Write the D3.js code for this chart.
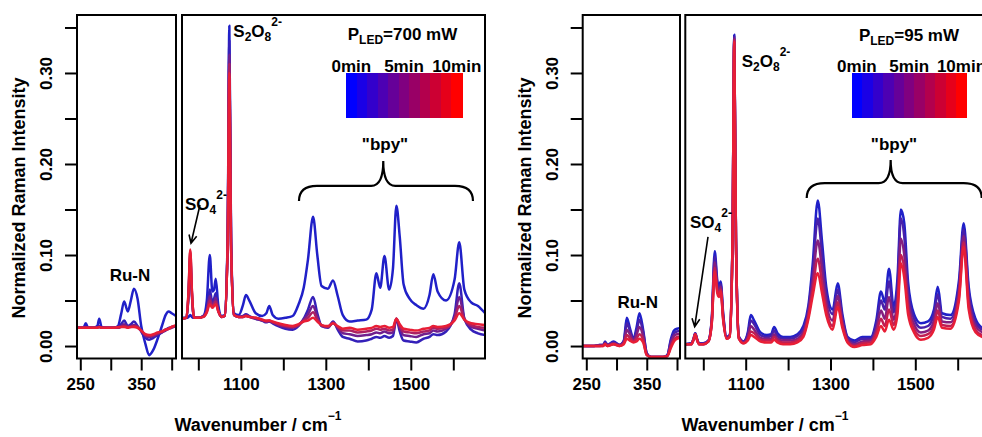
<!DOCTYPE html>
<html lang="en">
<head>
<meta charset="UTF-8">
<title>Raman spectra under LED irradiation</title>
<script src="https://cdn.jsdelivr.net/npm/d3@7"></script>
<style>
  body { margin: 0; background: #fff; }
  svg { display: block; font-family: "Liberation Sans", Arial, sans-serif; font-weight: bold; }
</style>
</head>
<body>
<svg id="chart" width="982" height="437"></svg>
<script>
// ---- wavenumber grids (cm-1) ----
const lowWn = [244,255,259,263,272,278,281,285,295,305,312,317,322,328,333,338,344,350,357,363,370,377,384,390,395,400,407];
const hiWn = [957,972,977,981,985,990,1000,1012,1020,1027,1033,1037,1041,1047,1055,1062,1069,1073,1077,1084,
  1095,1105,1112,1120,1135,1150,1160,1167,1175,1188,1205,1222,1236,1248,1258,1270,1280,1290,1305,1317,
  1328,1340,1356,1375,1395,1408,1419,1428,1438,1449,1458,1466,1474,1483,1497,1513,1530,1544,1553,1563,
  1583,1603,1614,1626,1642,1658,1675];

// ---- P_LED = 700 mW, irradiation times (min) ----
const p700Minutes = [0, 1, 4, 7, 10];
const p700Low0 = [.020,.020,.025,.020,.020,.022,.030,.021,.020,.020,.022,.035,.049,.038,.050,.063,.052,.022,.002,-.010,-.004,.008,.022,.034,.038,.036,.033];
const p700Low1 = [.020,.020,.021,.020,.020,.021,.022,.020,.020,.020,.021,.024,.028,.022,.024,.027,.022,.016,.009,.007,.009,.012,.015,.018,.020,.021,.022];
const p700Low4 = [.020,.020,.021,.020,.020,.020,.021,.020,.020,.020,.020,.022,.024,.021,.022,.023,.021,.017,.011,.010,.011,.013,.015,.017,.019,.020,.022];
const p700Low7 = [.020,.020,.020,.020,.020,.020,.021,.020,.020,.020,.020,.021,.022,.021,.021,.022,.021,.017,.012,.011,.012,.014,.016,.018,.019,.021,.022];
const p700Low10 = [.020,.020,.020,.020,.020,.020,.021,.020,.020,.020,.021,.021,.021,.020,.021,.021,.020,.017,.013,.012,.013,.015,.016,.018,.019,.021,.023];

const p700Hi0 = [.031,.031,.032,.034,.032,.031,.031,.033,.050,.100,
  .060,.062,.074,.045,.033,.034,.120,.352,.120,.036,
  .034,.045,.056,.050,.036,.033,.036,.044,.034,.030,
  .031,.033,.046,.064,.095,.142,.100,.066,.063,.072,
  .055,.034,.027,.028,.029,.040,.080,.064,.099,.062,
  .085,.154,.120,.068,.052,.045,.041,.056,.079,.060,
  .050,.073,.114,.062,.048,.044,.036];
const p700Hi1 = [.030,.031,.055,.095,.055,.031,.031,.033,.040,.062,
  .048,.052,.058,.040,.032,.033,.115,.335,.115,.034,
  .032,.033,.035,.033,.030,.028,.026,.027,.025,.022,
  .019,.018,.022,.030,.040,.054,.036,.022,.020,.027,
  .018,.010,.008,.005,.006,.008,.010,.009,.011,.009,
  .011,.030,.016,.006,.005,.004,.008,.010,.013,.012,
  .016,.035,.069,.030,.018,.014,.012];
const p700Hi4 = [.030,.031,.057,.100,.057,.031,.031,.033,.039,.055,
  .045,.048,.053,.039,.032,.033,.113,.320,.113,.034,
  .032,.032,.034,.032,.030,.028,.027,.027,.026,.023,
  .021,.020,.023,.029,.035,.044,.032,.022,.021,.026,
  .020,.014,.013,.011,.012,.013,.015,.014,.016,.014,
  .015,.030,.020,.012,.011,.010,.013,.014,.017,.016,
  .019,.032,.054,.030,.021,.019,.017];
const p700Hi7 = [.030,.031,.059,.104,.059,.031,.031,.032,.038,.050,
  .043,.046,.049,.038,.032,.033,.111,.310,.111,.034,
  .032,.032,.033,.032,.031,.029,.027,.028,.026,.024,
  .022,.021,.023,.028,.031,.037,.029,.023,.021,.025,
  .021,.017,.017,.015,.016,.017,.019,.018,.019,.017,
  .018,.030,.022,.016,.015,.014,.016,.017,.020,.019,
  .020,.030,.044,.029,.023,.021,.020];
const p700Hi10 = [.030,.031,.060,.106,.060,.031,.031,.032,.037,.046,
  .042,.044,.046,.038,.032,.033,.110,.300,.110,.034,
  .032,.032,.033,.032,.031,.029,.028,.028,.027,.025,
  .023,.022,.024,.027,.028,.031,.027,.023,.022,.025,
  .022,.019,.020,.018,.019,.020,.022,.021,.022,.020,
  .021,.030,.024,.019,.018,.017,.019,.020,.022,.021,
  .022,.028,.036,.029,.025,.024,.023];

// ---- P_LED = 95 mW ----
const p95Minutes = [0, 2, 5, 8, 10];
const p95Low0 = [0,0,0,0,.001,.001,.005,.001,.005,.001,.006,.031,.020,.008,.020,.036,.018,-.008,-.012,-.012,-.012,-.012,-.010,.008,.017,.019,.020];
const p95Low2 = [0,0,0,0,.001,.001,.004,.001,.004,.001,.005,.025,.017,.007,.016,.029,.015,-.008,-.012,-.012,-.012,-.012,-.010,.006,.014,.016,.017];
const p95Low5 = [0,0,0,0,0,.001,.003,.001,.003,.001,.004,.018,.013,.006,.012,.021,.011,-.009,-.012,-.012,-.012,-.012,-.011,.003,.011,.013,.014];
const p95Low8 = [0,0,0,0,0,0,.002,0,.002,0,.003,.012,.009,.005,.008,.013,.007,-.010,-.012,-.012,-.012,-.012,-.011,0,.007,.010,.011];
const p95Low10 = [0,0,0,0,0,0,.002,0,.002,0,.002,.008,.006,.004,.005,.008,.004,-.010,-.012,-.012,-.012,-.012,-.011,-.002,.005,.008,.009];

const p95Hi0 = [.002,.003,.008,.014,.008,.003,.003,.006,.030,.104,
  .072,.065,.071,.035,.010,.012,.120,.342,.120,.010,
  .005,.015,.034,.028,.015,.012,.013,.021,.014,.010,
  .010,.013,.022,.045,.090,.160,.115,.065,.040,.069,
  .035,.010,.006,.010,.010,.028,.060,.048,.085,.043,
  .075,.150,.135,.070,.035,.025,.027,.040,.065,.036,
  .034,.072,.135,.065,.030,.020,.018];
const p95Hi2 = [.002,.003,.008,.014,.008,.003,.003,.006,.029,.098,
  .068,.062,.068,.033,.010,.011,.119,.340,.119,.010,
  .005,.013,.028,.024,.012,.010,.011,.017,.011,.008,
  .008,.011,.019,.041,.081,.140,.101,.057,.035,.062,
  .031,.009,.004,.008,.008,.024,.050,.040,.071,.037,
  .065,.140,.120,.061,.030,.020,.022,.035,.057,.032,
  .030,.066,.128,.059,.026,.018,.016];
const p95Hi5 = [.002,.002,.007,.013,.007,.002,.002,.005,.027,.092,
  .064,.059,.065,.031,.009,.011,.117,.338,.117,.009,
  .004,.010,.022,.018,.009,.008,.008,.013,.008,.006,
  .006,.008,.015,.037,.071,.116,.084,.048,.028,.055,
  .027,.007,.002,.005,.006,.018,.039,.030,.054,.029,
  .053,.118,.100,.051,.024,.015,.017,.028,.047,.027,
  .026,.060,.121,.052,.022,.015,.013];
const p95Hi8 = [.002,.002,.007,.013,.007,.002,.002,.005,.026,.086,
  .061,.056,.062,.029,.008,.010,.116,.336,.116,.008,
  .003,.008,.016,.014,.007,.006,.006,.010,.006,.004,
  .004,.006,.012,.033,.062,.096,.069,.040,.022,.048,
  .023,.005,.000,.003,.004,.014,.030,.022,.040,.023,
  .043,.100,.085,.042,.019,.011,.013,.022,.039,.023,
  .022,.054,.114,.045,.018,.012,.011];
const p95Hi10 = [.002,.002,.007,.013,.007,.002,.002,.005,.025,.082,
  .058,.054,.060,.028,.008,.010,.115,.334,.115,.008,
  .003,.006,.012,.010,.005,.004,.004,.007,.004,.002,
  .002,.004,.010,.030,.055,.080,.058,.034,.018,.043,
  .020,.004,-.001,.001,.002,.010,.022,.016,.029,.018,
  .035,.091,.075,.035,.015,.007,.009,.018,.032,.020,
  .019,.050,.109,.040,.015,.010,.009];

// ---- axes ----
const yTicks = [0, 0.05, 0.10, 0.15, 0.20, 0.25, 0.30, 0.35];
const yTickLabels = ["0.00", "", "0.10", "", "0.20", "", "0.30", ""];
const lowTicks = [250, 300, 350, 400];
const lowTickLabels = ["250", "", "350", ""];
const hiTicks = [1000, 1100, 1200, 1300, 1400, 1500, 1600];
const hiTickLabels = ["", "1100", "", "1300", "", "1500", ""];
const legendMinutes = [0,1,2,3,4,5,6,7,8,9,10];
const legendLabels = ["0min", "5min", "10min"];

// ---- figure layouts (pixel boxes) and annotation anchors (data units) ----
const figures = [
  { id: "a", power: "700", lowBox: [77, 176], hiBox: [182, 485], lowDom: [244.6, 407.1], hiDom: [961.6, 1674.6],
    minutes: p700Minutes, low: [p700Low0, p700Low1, p700Low4, p700Low7, p700Low10],
    hi: [p700Hi0, p700Hi1, p700Hi4, p700Hi7, p700Hi10],
    ruN: [331.6, 0.0718], so4: [968.7, 0.1494], arrow: [[1003.9, 0.1550], [982.8, 0.1129]],
    s2o8: [1082.3, 0.3398], pled: [1480.4, 0.3362], bar: [1347.5, 1620.5], bpy: [1439.3, 0.2154],
    brace: { x0: 1236.9, x1: 1646.3, xc: 1435.2, yEnd: 0.1593, yH: 0.1760, yTip: 0.2033 },
    xTitle: 258 },
  { id: "b", power: "95", lowBox: [582.7, 680], hiBox: [685.3, 989.5], lowDom: [244.05, 404.96], hiDom: [957.55, 1675],
    minutes: p95Minutes, low: [p95Low0, p95Low2, p95Low5, p95Low8, p95Low10],
    hi: [p95Hi0, p95Hi2, p95Hi5, p95Hi8, p95Hi10],
    ruN: [335.0, 0.0418], so4: [968.6, 0.1297], arrow: [[1011.1, 0.1198], [979.7, 0.0212]],
    s2o8: [1090.6, 0.3071], pled: [1485.1, 0.3351], bar: [1350.0, 1621.2], bpy: [1449.8, 0.2154],
    brace: { x0: 1243.9, x1: 1656.6, xc: 1441.9, yEnd: 0.1626, yH: 0.1790, yTip: 0.2044 },
    xTitle: 765 }
];

const svg = d3.select("#chart");
const defs = svg.append("defs");
const y = d3.scaleLinear().domain([-0.0137, 0.3637]).range([358.5, 15]);
const lineColor = d3.interpolateRgb("#2020c8", "#e81e36");
const barColor = d3.interpolateRgb("#0000ff", "#ff0000");

// text with sub/superscripts, parts = [[text, "sub"|"sup"|null], ...]
function richText(g, x, yy, parts, anchor, size) {
  const t = g.append("text").attr("x", x).attr("y", yy)
    .attr("text-anchor", anchor || "start").attr("font-size", size || 17);
  let cur = 0;
  parts.forEach(([s, kind]) => {
    const target = kind === "sub" ? 4 : kind === "sup" ? -11 : 0;
    t.append("tspan").attr("dy", target - cur)
      .attr("font-size", kind ? 12 : null).text(s);
    cur = target;
  });
  return t;
}

function drawFigure(fig) {
  const g = svg.append("g");
  const xLow = d3.scaleLinear().domain(fig.lowDom).range(fig.lowBox);
  const xHi = d3.scaleLinear().domain(fig.hiDom).range(fig.hiBox);
  const subs = [
    { key: "low", x: xLow, wn: lowWn, sets: fig.low, box: fig.lowBox },
    { key: "hi", x: xHi, wn: hiWn, sets: fig.hi, box: fig.hiBox }
  ];

  subs.forEach(sp => {
    const clipId = "clip-" + fig.id + "-" + sp.key;
    defs.append("clipPath").attr("id", clipId).append("rect")
      .attr("x", sp.box[0]).attr("y", y.range()[1])
      .attr("width", sp.box[1] - sp.box[0]).attr("height", y.range()[0] - y.range()[1]);

    const line = d3.line().x(d => sp.x(d[0])).y(d => y(d[1])).curve(d3.curveMonotoneX);
    g.append("g").attr("clip-path", `url(#${clipId})`)
      .selectAll("path").data(sp.sets).join("path")
      .attr("d", vals => line(sp.wn.map((w, k) => [w, vals[k]])))
      .attr("fill", "none")
      .attr("stroke", (vals, i) => lineColor(fig.minutes[i] / 10))
      .attr("stroke-width", 2.5)
      .attr("stroke-linejoin", "round");

    g.append("rect")
      .attr("x", sp.box[0]).attr("y", y.range()[1])
      .attr("width", sp.box[1] - sp.box[0]).attr("height", y.range()[0] - y.range()[1])
      .attr("fill", "none").attr("stroke", "#000").attr("stroke-width", 2);
  });

  // x axes
  const xAxes = [
    { scale: xLow, ticks: lowTicks, labels: lowTickLabels },
    { scale: xHi, ticks: hiTicks, labels: hiTickLabels }
  ];
  xAxes.forEach(a => {
    const ax = g.append("g").attr("transform", `translate(0,${y.range()[0]})`)
      .call(d3.axisBottom(a.scale).tickValues(a.ticks).tickSize(12).tickFormat((d, i) => a.labels[i]));
    ax.select(".domain").remove();
    ax.attr("font-size", null).attr("font-family", null);
    ax.selectAll("line").attr("stroke-width", 2);
    ax.selectAll("text").attr("y", 31.5).attr("dy", null).attr("font-size", 17).attr("fill", "#000");
  });

  // y axis
  const ay = g.append("g").attr("transform", `translate(${fig.lowBox[0]},0)`)
    .call(d3.axisLeft(y).tickValues(yTicks).tickSize(12).tickFormat((d, i) => yTickLabels[i]));
  ay.select(".domain").remove();
  ay.attr("font-size", null).attr("font-family", null);
  ay.selectAll("line").attr("stroke-width", 2);
  ay.selectAll("text").attr("transform", "rotate(-90)").attr("x", 0).attr("y", -25)
    .attr("dy", null).attr("text-anchor", "middle").attr("font-size", 17).attr("fill", "#000");

  // axis titles
  g.append("text").attr("transform", `translate(${fig.lowBox[0] - 52},198) rotate(-90)`)
    .attr("text-anchor", "middle").attr("font-size", 18).text("Normalized Raman Intensity");
  richText(g, fig.xTitle, 431, [["Wavenumber / cm"], ["\u22121", "sup"]], "middle", 18);

  // peak labels
  g.append("text").attr("x", xLow(fig.ruN[0])).attr("y", y(fig.ruN[1]))
    .attr("text-anchor", "middle").attr("font-size", 17).text("Ru-N");
  richText(g, xHi(fig.so4[0]), y(fig.so4[1]), [["SO"], ["4", "sub"], ["2-", "sup"]]);
  richText(g, xHi(fig.s2o8[0]), y(fig.s2o8[1]), [["S"], ["2", "sub"], ["O"], ["8", "sub"], ["2-", "sup"]]);

  // arrow to sulfate peak
  const [p1, p2] = fig.arrow.map(p => [xHi(p[0]), y(p[1])]);
  const ang = Math.atan2(p2[1] - p1[1], p2[0] - p1[0]);
  const hl = 9, ha = 0.45;
  g.append("path")
    .attr("d", `M${p1[0]},${p1[1]}L${p2[0]},${p2[1]}` +
      `M${p2[0] - hl * Math.cos(ang - ha)},${p2[1] - hl * Math.sin(ang - ha)}L${p2[0]},${p2[1]}` +
      `L${p2[0] - hl * Math.cos(ang + ha)},${p2[1] - hl * Math.sin(ang + ha)}`)
    .attr("fill", "none").attr("stroke", "#000").attr("stroke-width", 1.6);

  // power label
  richText(g, xHi(fig.pled[0]), y(fig.pled[1]), [["P"], ["LED", "sub"], ["=" + fig.power + " mW"]], "middle", 17);

  // colour legend
  const band = d3.scaleBand().domain(legendMinutes).range([xHi(fig.bar[0]), xHi(fig.bar[1])]);
  g.append("g").selectAll("rect").data(legendMinutes).join("rect")
    .attr("x", d => band(d)).attr("y", y(0.2999))
    .attr("width", band.bandwidth() + 0.5).attr("height", y(0.2505) - y(0.2999))
    .attr("fill", d => barColor(d / 10)).attr("shape-rendering", "crispEdges");
  g.append("g").selectAll("text").data([0, 5, 10]).join("text")
    .attr("x", d => band(d) + band.bandwidth() / 2).attr("y", y(0.3016))
    .attr("text-anchor", "middle").attr("font-size", 17)
    .text((d, i) => legendLabels[i]);

  // "bpy" brace
  g.append("text").attr("x", xHi(fig.bpy[0])).attr("y", y(fig.bpy[1]))
    .attr("text-anchor", "middle").attr("font-size", 17).text("\"bpy\"");
  const b = fig.brace;
  const x0 = xHi(b.x0), x1 = xHi(b.x1), xc = xHi(b.xc);
  const ye = y(b.yEnd), yh = y(b.yH), yt = y(b.yTip);
  const r = 18, rc = 12;
  g.append("path")
    .attr("d", `M${x0},${ye}Q${x0},${yh} ${x0 + r},${yh}L${xc - rc},${yh}Q${xc},${yh} ${xc},${yt}` +
      `Q${xc},${yh} ${xc + rc},${yh}L${x1 - r},${yh}Q${x1},${yh} ${x1},${ye}`)
    .attr("fill", "none").attr("stroke", "#000").attr("stroke-width", 2.2);
}

figures.forEach(drawFigure);
</script>
</body>
</html>
